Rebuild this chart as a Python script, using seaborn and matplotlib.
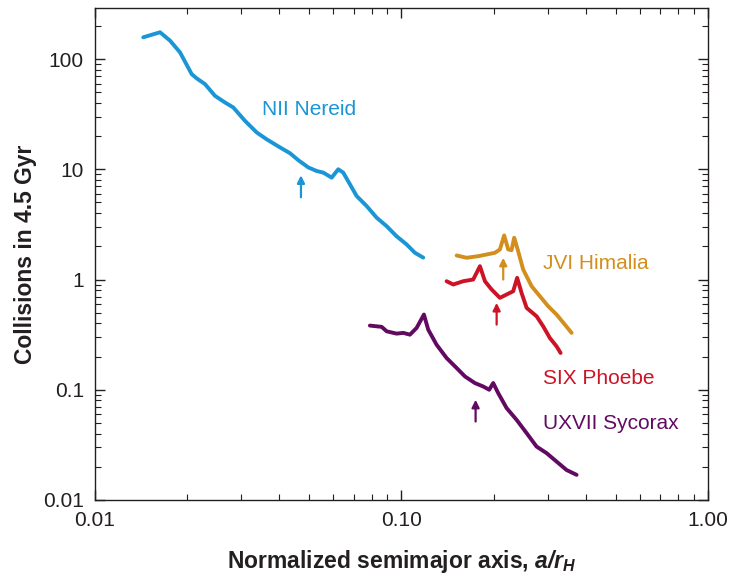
import numpy as np
import pandas as pd
import matplotlib
matplotlib.use("Agg")
import matplotlib.pyplot as plt
import seaborn as sns
from matplotlib.ticker import LogLocator, FixedLocator, FixedFormatter, NullFormatter

# values (normalized semimajor axis, collisions in 4.5 Gyr)
nereid_a = [0.01437, 0.01630, 0.01757, 0.01894, 0.02068, 0.02147, 0.02285, 0.02463,
            0.02655, 0.02826, 0.03087, 0.03370, 0.03633, 0.04015, 0.04327, 0.04607,
            0.04966, 0.05288, 0.05557, 0.05920, 0.06220, 0.06458, 0.07142, 0.07700,
            0.08300, 0.08946, 0.0964, 0.1040, 0.1106, 0.1178]
nereid_n = [157.5, 175, 147, 115, 73, 66.8, 59.3, 46.4, 40.4, 36.4, 27.5, 21.6, 18.7,
            15.8, 14.0, 12.1, 10.4, 9.65, 9.33, 8.4, 10.0, 9.33, 5.72, 4.64, 3.64,
            3.05, 2.47, 2.08, 1.75, 1.58]

himalia_a = [0.1514, 0.1632, 0.1781, 0.1897, 0.2019, 0.2096, 0.2164, 0.2231, 0.2288,
             0.2333, 0.2404, 0.2496, 0.2660, 0.2831, 0.3013, 0.3209, 0.3415, 0.3592]
himalia_n = [1.653, 1.575, 1.628, 1.687, 1.748, 1.874, 2.512, 1.874, 1.847, 2.394,
             1.809, 1.233, 0.869, 0.705, 0.572, 0.481, 0.390, 0.328]

phoebe_a = [0.1404, 0.1476, 0.1591, 0.1715, 0.1804, 0.1873, 0.1970, 0.2096, 0.2204,
            0.2316, 0.2386, 0.2466, 0.2562, 0.2761, 0.2902, 0.3050, 0.3209, 0.3307]
phoebe_n = [0.965, 0.901, 0.965, 1.0, 1.321, 0.965, 0.811, 0.682, 0.731, 0.783,
            1.036, 0.757, 0.553, 0.464, 0.376, 0.295, 0.2475, 0.2156]

sycorax_a = [0.0789, 0.0862, 0.0895, 0.0964, 0.1014, 0.1066, 0.1121, 0.1184, 0.1223,
             0.1302, 0.1404, 0.1514, 0.1612, 0.1737, 0.1849, 0.1934, 0.1993, 0.2069,
             0.2204, 0.2375, 0.2562, 0.2761, 0.2977, 0.3209, 0.3459, 0.3729]
sycorax_n = [0.382, 0.372, 0.339, 0.323, 0.328, 0.316, 0.364, 0.481, 0.351, 0.2565,
             0.194, 0.1575, 0.132, 0.115, 0.107, 0.100, 0.115, 0.0933, 0.0682, 0.0534,
             0.0404, 0.0305, 0.0266, 0.0223, 0.0187, 0.0169]

moons = ["NII Nereid", "JVI Himalia", "SIX Phoebe", "UXVII Sycorax"]
colors = ["#1a95d5", "#d38f1d", "#cc1426", "#620a62"]

# arrow positions (x, tail y, head y)
arrow_x = [0.0470, 0.2149, 0.2045, 0.1746]
arrow_tail = [5.57, 1.0, 0.39, 0.0515]
arrow_head = [8.82, 1.575, 0.614, 0.0811]

# label anchors
label_x = [0.0499, 0.2895, 0.2895, 0.2895]
label_y = [35.1, 1.40, 0.126, 0.0491]
label_ha = ["center", "left", "left", "left"]

frames = []
for name, a, n in zip(moons, [nereid_a, himalia_a, phoebe_a, sycorax_a],
                      [nereid_n, himalia_n, phoebe_n, sycorax_n]):
    frames.append(pd.DataFrame({"a": a, "n": n, "moon": name}))
df = pd.concat(frames, ignore_index=True)

sns.set_style("ticks")
plt.rcParams["font.family"] = ["Liberation Sans", "DejaVu Sans"]
plt.rcParams["mathtext.fontset"] = "custom"
plt.rcParams["mathtext.it"] = "Liberation Sans:italic:bold"
plt.rcParams["mathtext.rm"] = "Liberation Sans:italic:bold"

fig = plt.figure(figsize=(7.32, 5.78), dpi=100)
ax = fig.add_axes([0.1298, 0.135, 0.8372, 0.851])

sns.lineplot(data=df, x="a", y="n", hue="moon", palette=dict(zip(moons, colors)),
             sort=False, estimator=None, lw=2.8, legend=False, ax=ax)

ax.set_xscale("log")
ax.set_yscale("log")
ax.set_xlim(0.01, 1.0)
ax.set_ylim(0.01, 290)

ax.xaxis.set_major_locator(FixedLocator([0.01, 0.1, 1.0]))
ax.xaxis.set_major_formatter(FixedFormatter(["0.01", "0.10", "1.00"]))
ax.yaxis.set_major_locator(FixedLocator([0.01, 0.1, 1, 10, 100]))
ax.yaxis.set_major_formatter(FixedFormatter(["0.01", "0.1", "1", "10", "100"]))
for axis in (ax.xaxis, ax.yaxis):
    axis.set_minor_locator(LogLocator(base=10, subs=np.arange(2, 10), numticks=20))
    axis.set_minor_formatter(NullFormatter())

ax.tick_params(which="both", direction="in", top=True, right=True, colors="#231f20",
               labelsize=15)
ax.tick_params(which="major", length=7, width=1.0, pad=8)
ax.tick_params(which="minor", length=4, width=0.8)
for s in ax.spines.values():
    s.set_linewidth(1.0)
    s.set_color("#231f20")

ax.set_xlabel(r"Normalized semimajor axis, $a/r_H$", fontsize=16.5,
              fontweight="bold", labelpad=13, color="#231f20")
ax.set_ylabel("Collisions in 4.5 Gyr", fontsize=16.5, fontweight="bold", labelpad=4,
              color="#231f20")

for name, c, x, t, h, lx, ly, ha in zip(moons, colors, arrow_x, arrow_tail, arrow_head,
                                         label_x, label_y, label_ha):
    ax.annotate("", xy=(x, h), xytext=(x, t),
                arrowprops=dict(arrowstyle="-|>", color=c, lw=1.6, mutation_scale=11,
                                shrinkA=0, shrinkB=0))
    ax.text(lx, ly, name, color=c, fontsize=15, ha=ha, va="center")

fig.savefig("out.png", dpi=100)
